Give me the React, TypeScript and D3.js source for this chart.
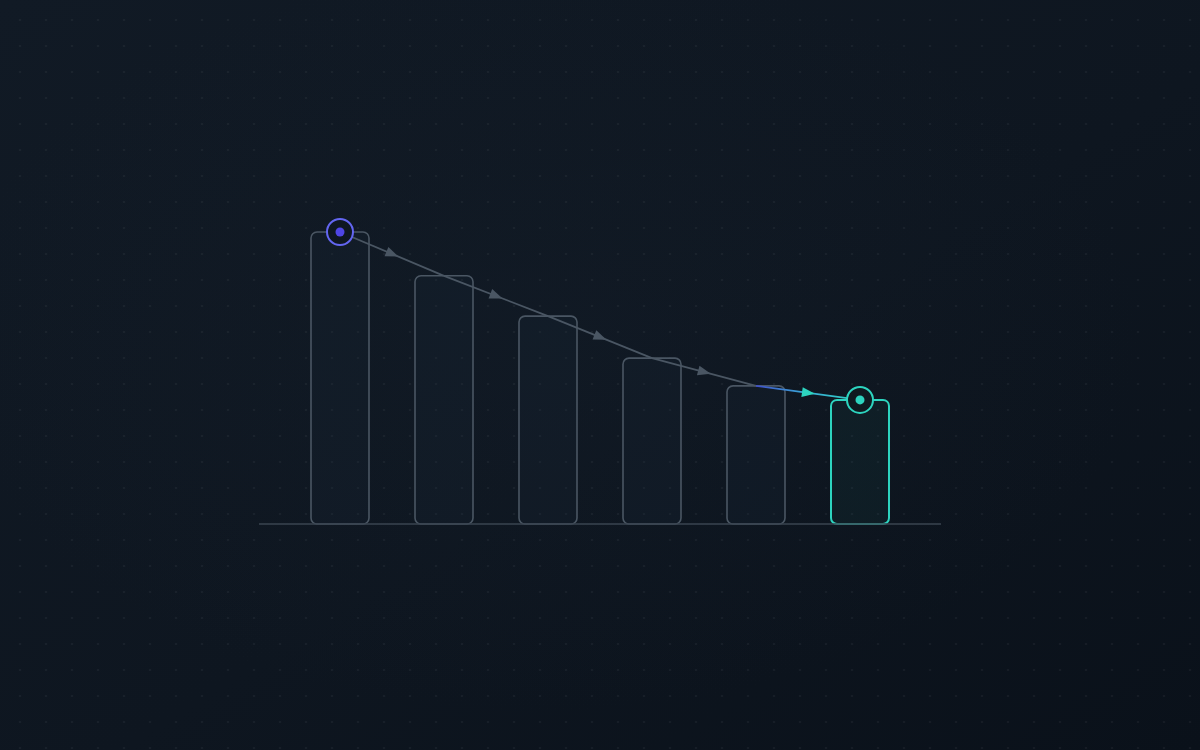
import { useMemo } from "react";
import * as d3 from "d3";

// Step values (first bar = 100).
const steps = ["s1", "s2", "s3", "s4", "s5", "s6"];
const values = [100, 85, 71.2, 56.8, 47.3, 42.5];

const WIDTH = 1200;
const HEIGHT = 750;
const BASE_Y = 524;
const TOP_Y = 232;

const GRAY = "#4a5663";
const TEAL = "#2dd4bf";
const INDIGO = "#6366f1";

export default function App() {
  const x = useMemo(
    () =>
      d3
        .scaleBand<string>()
        .domain(steps)
        .range([259, 941])
        .paddingInner(46 / 104)
        .paddingOuter(0.5),
    []
  );
  const y = useMemo(
    () => d3.scaleLinear().domain([0, 100]).range([BASE_Y, TOP_Y]),
    []
  );

  const bw = x.bandwidth();
  const pts = steps.map((s, i) => [(x(s) ?? 0) + bw / 2, y(values[i])] as [number, number]);
  const last = pts.length - 1;

  return (
    <div style={{ position: "fixed", left: 0, top: 0, width: WIDTH, height: HEIGHT }}>
      <svg width={WIDTH} height={HEIGHT} viewBox={`0 0 ${WIDTH} ${HEIGHT}`} style={{ display: "block" }}>
        <defs>
          <linearGradient id="bg" x1="0" y1="0" x2="1" y2="1">
            <stop offset="0%" stopColor="#111a25" />
            <stop offset="55%" stopColor="#0e1620" />
            <stop offset="100%" stopColor="#0a111a" />
          </linearGradient>
          <radialGradient id="glow" cx="0.45" cy="0.45" r="0.5">
            <stop offset="0%" stopColor="#16202c" stopOpacity={0.3} />
            <stop offset="100%" stopColor="#16202c" stopOpacity={0} />
          </radialGradient>
          <pattern id="dots" x={7} y={7} width={26} height={26} patternUnits="userSpaceOnUse">
            <circle cx={13} cy={13} r={1.1} fill="#ffffff" fillOpacity={0.05} />
          </pattern>
          <linearGradient
            id="lastSeg"
            gradientUnits="userSpaceOnUse"
            x1={pts[last - 1][0]}
            y1={pts[last - 1][1]}
            x2={pts[last][0]}
            y2={pts[last][1]}
          >
            <stop offset="0%" stopColor="#3f4fc8" />
            <stop offset="45%" stopColor="#3aa6d8" />
            <stop offset="100%" stopColor={TEAL} />
          </linearGradient>
        </defs>

        <rect width={WIDTH} height={HEIGHT} fill="url(#bg)" />
        <rect width={WIDTH} height={HEIGHT} fill="url(#glow)" />
        <rect width={WIDTH} height={HEIGHT} fill="url(#dots)" />

        {/* bars */}
        {steps.map((s, i) => {
          const isLast = i === last;
          const top = y(values[i]);
          return (
            <rect
              key={s}
              x={x(s)}
              y={top}
              width={bw}
              height={BASE_Y - top}
              rx={6}
              fill={isLast ? "rgba(45,212,191,0.045)" : "rgba(30,44,60,0.18)"}
              stroke={isLast ? TEAL : GRAY}
              strokeWidth={isLast ? 2 : 1.6}
            />
          );
        })}

        {/* baseline */}
        <line x1={259} x2={941} y1={BASE_Y} y2={BASE_Y} stroke="#3a4450" strokeWidth={1.6} />

        {/* connecting path with arrowheads */}
        {pts.slice(0, -1).map((p, i) => {
          const q = pts[i + 1];
          const isLast = i === last - 1;
          const mx = (p[0] + q[0]) / 2;
          const my = (p[1] + q[1]) / 2;
          const ang = (Math.atan2(q[1] - p[1], q[0] - p[0]) * 180) / Math.PI;
          return (
            <g key={i}>
              <line
                x1={p[0]}
                y1={p[1]}
                x2={q[0]}
                y2={q[1]}
                stroke={isLast ? "url(#lastSeg)" : GRAY}
                strokeWidth={1.8}
              />
              <path
                d="M7,0 L-6,-5 L-6,5 Z"
                transform={`translate(${mx},${my}) rotate(${ang})`}
                fill={isLast ? TEAL : GRAY}
              />
            </g>
          );
        })}

        {/* start / end markers */}
        <circle cx={pts[0][0]} cy={pts[0][1]} r={13} fill="#0f1722" stroke={INDIGO} strokeWidth={2} />
        <circle cx={pts[0][0]} cy={pts[0][1]} r={4.5} fill="#4f46e5" />
        <circle cx={pts[last][0]} cy={pts[last][1]} r={13} fill="#0f1a20" stroke={TEAL} strokeWidth={2} />
        <circle cx={pts[last][0]} cy={pts[last][1]} r={4.5} fill={TEAL} />
      </svg>
    </div>
  );
}
